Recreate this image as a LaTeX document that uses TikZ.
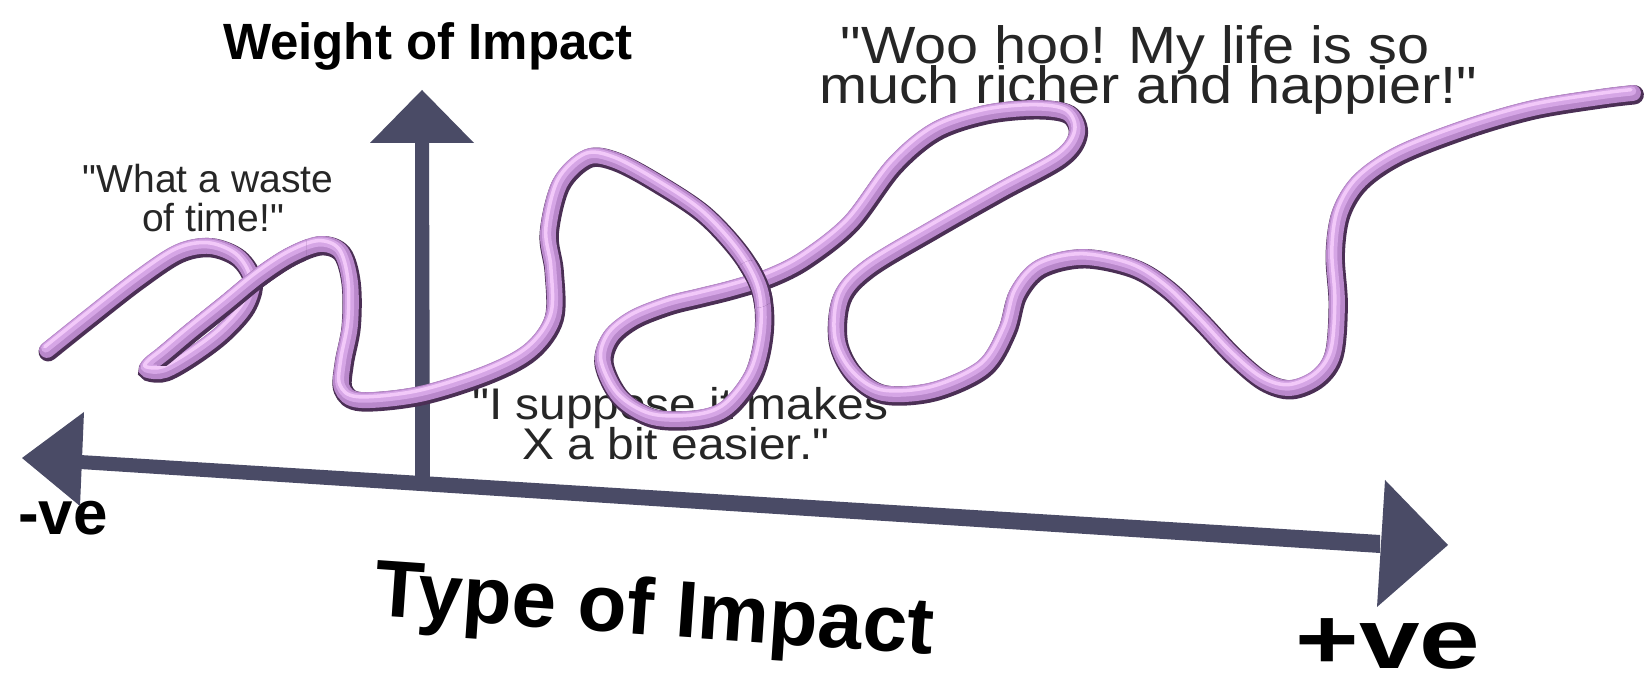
\documentclass[tikz,border=0pt]{standalone}
\usepackage{fontspec}
\setmainfont{Liberation Sans}[Ligatures=TeXOff]

\definecolor{axisgray}{HTML}{4A4B66}
\definecolor{tubedark}{HTML}{4B2F55}
\definecolor{tubemid}{HTML}{B988CB}
\definecolor{tubelite}{HTML}{D6A6E6}
\definecolor{shinepink}{HTML}{F2C9F9}
\definecolor{quotegray}{HTML}{262626}

% the purple tube, drawn in four layers
\newcommand{\tubepiece}[2]{%
  \draw[tubeedge,#1] plot[smooth,tension=0.55] coordinates {#2};
  \draw[tubebody,#1] plot[smooth,tension=0.55] coordinates {#2};
  \draw[tubelight,#1] plot[smooth,tension=0.55] coordinates {#2};
  \draw[tubeshine,#1] plot[smooth,tension=0.55] coordinates {#2};}

\begin{document}
\begin{tikzpicture}[
    x=0.01cm, y=-0.01cm,
    axis/.style={fill=axisgray},
    heading/.style={inner sep=0, anchor=base, text=black},
    quote/.style={inner sep=0, anchor=base, text=quotegray},
    tubeedge/.style={draw=tubedark, line width=5.5pt, shift={(1.2,1.8)}},
    tubebody/.style={draw=tubemid, line width=4.5pt},
    tubelight/.style={draw=tubelite, line width=2.6pt, shift={(-1.3,-2)}},
    tubeshine/.style={draw=shinepink, line width=1pt, shift={(-2.2,-3.3)}}
]
\useasboundingbox (0,0) rectangle (1652,683);

% Labels
\node[heading, font=\bfseries\fontsize{14.5}{17}\selectfont] (weight) at (428,60) {Weight of Impact};
\node[heading, font=\bfseries\fontsize{17.6}{20}\selectfont] (neg) at (63,535) {-ve};
\node[heading, font=\bfseries\fontsize{22.8}{26}\selectfont, rotate=-4] (type) at (653,635) {Type of Impact};
\node[heading, font=\bfseries\fontsize{24.2}{28}\selectfont, xscale=1.28] (pos) at (1388,669) {+ve};

\node[quote, font=\fontsize{11.1}{13}\selectfont] (waste1) at (208,193) {"What a waste};
\node[quote, font=\fontsize{11.1}{13}\selectfont] (waste2) at (213,232) {of time!"};
\node[quote, font=\fontsize{14.9}{17}\selectfont, xscale=1.1] (woo1) at (1135,64) {"Woo hoo! My life is so};
\node[quote, font=\fontsize{14.9}{17}\selectfont, xscale=1.1] (woo2) at (1148,104) {much richer and happier!"};
\node[quote, font=\fontsize{12.6}{15}\selectfont, xscale=1.08] (suppose1) at (680,420) {"I suppose it makes};
\node[quote, font=\fontsize{12.6}{15}\selectfont, xscale=1.08] (suppose2) at (676,460) {X a bit easier."};

% Axes
\fill[axis] (80,455) -- (1380,535) -- (1380,553) -- (80,469) -- cycle;
\fill[axis] (22,458) -- (84,412) -- (80,506) -- cycle;
\fill[axis] (1385,480) -- (1448,545) -- (1377,607) -- cycle;
\fill[axis] (415,143) -- (429,143) -- (430,482) -- (415,481) -- cycle;
\fill[axis] (422,90) -- (474,143) -- (370,143) -- cycle;

% Tube, whole
\tubepiece{line cap=round}{(47,350) (87,318) (137,279) (178,252) (210,246) (238,257) (252,280) (245,306) (222,332) (193,354) (165,370) (148,370) (150,364) (165,352) (190,331) (225,303) (258,276) (290,255) (320,244) (341,252) (350,282) (350,325) (343,362) (342,388) (360,400) (420,394) (487,373) (530,350) (553,317) (553,270) (548,232) (560,183) (587,157) (615,160) (655,181) (703,213) (740,253) (760,290) (763,330) (753,373) (727,407) (697,418) (653,417) (620,397) (603,363) (610,337) (633,318) (668,304) (700,296) (732,288) (770,276) (805,258) (850,222) (893,165) (935,130) (985,113) (1035,108) (1068,113) (1077,133) (1060,157) (1000,190) (933,228) (868,267) (841,297) (837,340) (853,373) (883,393) (933,390) (983,367) (1006,330) (1017,293) (1040,267) (1083,257) (1133,267) (1167,288) (1200,320) (1233,355) (1263,380) (1290,388) (1317,377) (1333,353) (1337,303) (1334,253) (1340,212) (1360,180) (1400,153) (1467,127) (1533,108) (1600,97) (1633,93)}

% Tube, parts that lie in front
\begin{scope}
  \clip (157,232) rectangle (306,366);
  \tubepiece{line cap=butt}{(148,370) (150,364) (165,352) (190,331) (225,303) (258,276) (290,255) (320,244) (341,252)}
\end{scope}
\begin{scope}
  \clip (755,284) circle (24);
  \tubepiece{line cap=butt}{(615,160) (655,181) (703,213) (740,253) (760,290) (763,330) (753,373)}
\end{scope}

\end{tikzpicture}
\end{document}
